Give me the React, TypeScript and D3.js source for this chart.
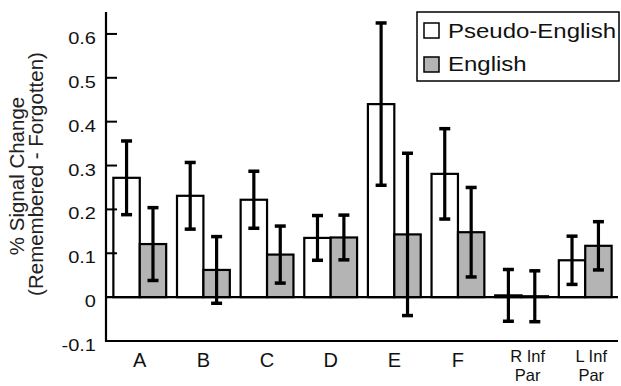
import React from "react";
import * as d3 from "d3";

const categories = ["A", "B", "C", "D", "E", "F", "R Inf|Par", "L Inf|Par"];
const seriesNames = ["Pseudo-English", "English"];
const pseudoValues = [0.272, 0.231, 0.222, 0.135, 0.44, 0.281, 0.004, 0.084];
const pseudoErrors = [0.084, 0.076, 0.065, 0.051, 0.185, 0.103, 0.059, 0.055];
const englishValues = [0.121, 0.062, 0.097, 0.136, 0.143, 0.148, 0.002, 0.117];
const englishErrors = [0.083, 0.076, 0.065, 0.051, 0.185, 0.102, 0.058, 0.055];
const yTicks = [0.6, 0.5, 0.4, 0.3, 0.2, 0.1, 0, -0.1];
const yTickLabels = ["0.6", "0.5", "0.4", "0.3", "0.2", "0.1", "0", "-0.1"];
const seriesFill = ["#ffffff", "#b4b4b4"];

const W = 621;
const H = 386;
const FONT = "'Liberation Sans', Arial, Helvetica, sans-serif";

export default function App() {
  const axisX = 106;
  const rightX = 618;
  const y = d3.scaleLinear().domain([-0.1, 0.65]).range([341, 12]);
  const x = d3
    .scaleBand<string>()
    .domain(categories)
    .range([107, 618])
    .paddingInner(0.17)
    .paddingOuter(0.1);
  const xs = d3
    .scaleBand<string>()
    .domain(seriesNames)
    .range([0, x.bandwidth()])
    .padding(0);

  const series = [
    { name: seriesNames[0], values: pseudoValues, errors: pseudoErrors, fill: seriesFill[0] },
    { name: seriesNames[1], values: englishValues, errors: englishErrors, fill: seriesFill[1] },
  ];

  const capW = 11;

  return (
    <svg
      width={W}
      height={H}
      style={{ position: "absolute", left: 0, top: 0, background: "#fff" }}
      fontFamily={FONT}
    >
      <rect x={0} y={0} width={W} height={H} fill="#fff" />
      {categories.map((c, i) => (
        <g key={c}>
          {series.map((s) => {
            const v = s.values[i];
            const bx = (x(c) as number) + (xs(s.name) as number);
            const bw = xs.bandwidth();
            const top = y(Math.max(v, 0));
            const bot = y(Math.min(v, 0));
            return (
              <rect
                key={s.name}
                x={bx}
                y={top}
                width={bw}
                height={Math.max(bot - top, 0)}
                fill={s.fill}
                stroke="#000"
                strokeWidth={2.2}
              />
            );
          })}
        </g>
      ))}
      <line x1={axisX} x2={rightX} y1={y(0)} y2={y(0)} stroke="#000" strokeWidth={2.4} />
      {categories.map((c, i) => (
        <g key={c + "-err"}>
          {series.map((s) => {
            const v = s.values[i];
            const e = s.errors[i];
            const cx = (x(c) as number) + (xs(s.name) as number) + xs.bandwidth() / 2;
            return (
              <g key={s.name} stroke="#000">
                <line x1={cx} x2={cx} y1={y(v + e)} y2={y(v - e)} strokeWidth={3.2} />
                <line x1={cx - capW / 2} x2={cx + capW / 2} y1={y(v + e)} y2={y(v + e)} strokeWidth={3.5} />
                <line x1={cx - capW / 2} x2={cx + capW / 2} y1={y(v - e)} y2={y(v - e)} strokeWidth={3.5} />
              </g>
            );
          })}
        </g>
      ))}
      <line x1={axisX} x2={axisX} y1={12} y2={y(-0.1) + 1} stroke="#000" strokeWidth={2.2} />
      <line x1={axisX - 1} x2={rightX} y1={y(-0.1)} y2={y(-0.1)} stroke="#000" strokeWidth={2.2} />
      {yTicks.map((t, i) => (
        <g key={t}>
          {t > 0 && (
            <line x1={axisX} x2={axisX + 11} y1={y(t)} y2={y(t)} stroke="#000" strokeWidth={2} />
          )}
          <text
            transform={`translate(96,${y(t) + 10}) scale(1.25,1)`}
            textAnchor="end"
            fontSize={16}
            fill="#111"
          >
            {yTickLabels[i]}
          </text>
        </g>
      ))}
      {categories.map((c) => {
        const lines = c.split("|");
        const multi = lines.length > 1;
        const cx = (x(c) as number) + x.bandwidth() / 2 + (multi ? 6 : 0);
        return (
          <g key={c + "-lab"}>
            {lines.map((l, k) => (
              <text
                key={k}
                x={cx}
                y={multi ? 362 + k * 19 : 367}
                textAnchor="middle"
                fontSize={multi ? 16.5 : 20}
                fill="#111"
              >
                {l}
              </text>
            ))}
          </g>
        );
      })}
      <text transform="translate(24,176) rotate(-90)" textAnchor="middle" fontSize={20.5} fill="#222">
        % Signal Change
      </text>
      <text transform="translate(43,174) rotate(-90)" textAnchor="middle" fontSize={20.5} fill="#222">
        (Remembered - Forgotten)
      </text>
      <rect x={417} y={12} width={202} height={69} fill="#fff" stroke="#000" strokeWidth={1.5} />
      {series.map((s, i) => (
        <g key={s.name + "-leg"}>
          <rect x={424} y={23 + i * 34} width={15} height={15} fill={s.fill} stroke="#000" strokeWidth={1.5} />
          <text transform={`translate(448,${38 + i * 33}) scale(1.2,1)`} fontSize={20} fill="#111">
            {s.name}
          </text>
        </g>
      ))}
    </svg>
  );
}
